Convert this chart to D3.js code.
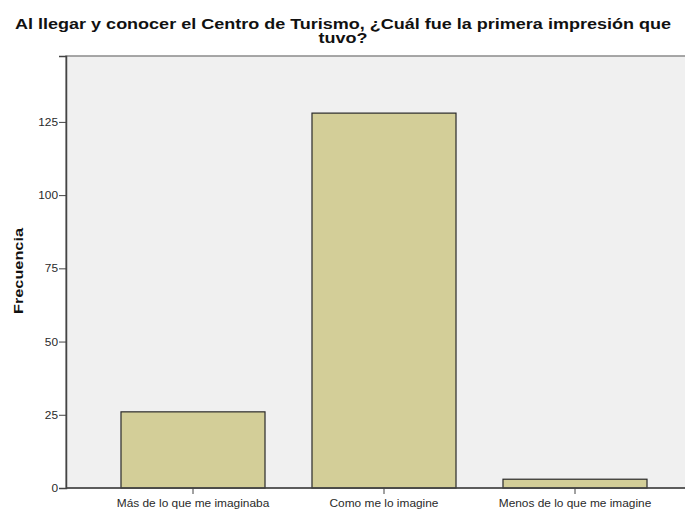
<!DOCTYPE html>
<html>
<head>
<meta charset="utf-8">
<script src="https://cdn.jsdelivr.net/npm/d3@7"></script>
<style>
  body { margin: 0; background: #fff; }
  svg { display: block; font-family: "Liberation Sans", Arial, sans-serif; }
  .axis path, .axis line { stroke: #444; }
  .axis text { fill: #2a2a2a; font-size: 11px; }
</style>
</head>
<body>
<svg id="chart" width="685" height="512"></svg>
<script>
// data
const categories = ['Más de lo que me imaginaba', 'Como me lo imagine', 'Menos de lo que me imagine']
const counts = [26, 128, 3]
const yTicks = [0, 25, 50, 75, 100, 125]
const titleLines = ['Al llegar y conocer el Centro de Turismo, ¿Cuál fue la primera impresión que', 'tuvo?']

//

const svg = d3.select('#chart')
const frame = { left: 66, top: 56, right: 702, bottom: 488 }
const stretch = 1.08

const x = d3.scaleBand()
  .domain(categories)
  .range([97.5, 670.5])
  .paddingInner(0.246)
  .paddingOuter(0.123)

const y = d3.scaleLinear()
  .domain([0, 147.5])
  .range([frame.bottom, frame.top])

// plot background
svg.append('rect')
  .attr('x', frame.left)
  .attr('y', frame.top)
  .attr('width', frame.right - frame.left)
  .attr('height', frame.bottom - frame.top)
  .attr('fill', '#f0f0f0')
  .attr('stroke', '#8a8a8a')
  .attr('stroke-width', 1.5)

// bars
svg.append('g')
  .selectAll('rect')
  .data(counts)
  .enter()
  .append('rect')
  .attr('x', (d, i) => x(categories[i]))
  .attr('y', (d) => y(d))
  .attr('width', x.bandwidth())
  .attr('height', (d) => y(0) - y(d))
  .attr('fill', '#d3ce98')
  .attr('stroke', '#2a2a2a')
  .attr('stroke-width', 1.2)

// axes
const yAxis = d3.axisLeft(y)
  .tickValues(yTicks)
  .tickSize(7)
  .tickPadding(1)

svg.append('g')
  .attr('class', 'axis')
  .attr('transform', `translate(${frame.left},0)`)
  .call(yAxis)
  .call((g) => g.select('.domain').attr('stroke-width', 1.5))

const xAxis = d3.axisBottom(x)
  .tickSize(6)
  .tickPadding(5)
  .tickSizeOuter(0)

svg.append('g')
  .attr('class', 'axis')
  .attr('transform', `translate(0,${frame.bottom})`)
  .call(xAxis)
  .call((g) => g.select('.domain').remove())

svg.selectAll('.axis text')
  .each(function () {
    const w = this.getComputedTextLength()
    d3.select(this)
      .attr('textLength', w * stretch)
      .attr('lengthAdjust', 'spacingAndGlyphs')
  })

svg.append('line')
  .attr('x1', frame.left)
  .attr('x2', frame.right)
  .attr('y1', frame.bottom)
  .attr('y2', frame.bottom)
  .attr('stroke', '#444')
  .attr('stroke-width', 1.5)

// y label
svg.append('text')
  .attr('transform', 'translate(23,271) rotate(-90)')
  .attr('text-anchor', 'middle')
  .attr('font-size', 13)
  .attr('font-weight', 'bold')
  .attr('fill', '#111')
  .attr('textLength', 86)
  .attr('lengthAdjust', 'spacingAndGlyphs')
  .text('Frecuencia')

// title
const title = svg.append('text')
  .attr('text-anchor', 'middle')
  .attr('font-size', 15)
  .attr('font-weight', 'bold')
  .attr('fill', '#111')

title.selectAll('tspan')
  .data(titleLines)
  .enter()
  .append('tspan')
  .attr('x', 343)
  .attr('y', (d, i) => 29 + i * 14)
  .text((d) => d)
  .each(function () {
    const w = this.getComputedTextLength()
    d3.select(this)
      .attr('textLength', w * 1.2)
      .attr('lengthAdjust', 'spacingAndGlyphs')
  })
</script>
</body>
</html>
